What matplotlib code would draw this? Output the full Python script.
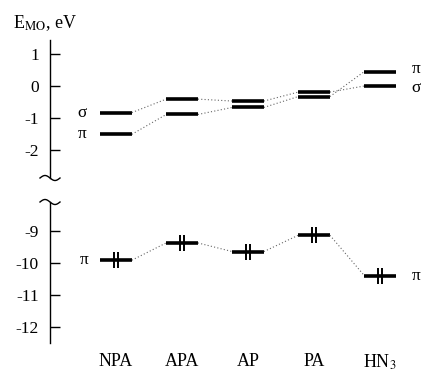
import numpy as np
import matplotlib
matplotlib.use("Agg")
import matplotlib.pyplot as plt
from matplotlib.lines import Line2D

plt.rcParams["font.family"] = ["Liberation Serif", "DejaVu Serif"]
plt.rcParams["mathtext.fontset"] = "stix"

# molecule order along the x axis
categories = ["NPA", "APA", "AP", "PA", r"HN$_3$"]

# unoccupied levels (eV), followed along the sigma and pi tracks
sigma_levels = [-0.83, -0.41, -0.47, -0.19, 0.00]
pi_levels = [-1.51, -0.89, -0.67, -0.33, 0.45]

# occupied pi level (eV)
occ_pi_levels = [-9.92, -9.38, -9.65, -9.14, -10.40]

upper_ticks = [1, 0, -1, -2]
lower_ticks = [-9, -10, -11, -12]

halfw = 0.24
xpos = np.arange(len(categories))

fig = plt.figure(figsize=(4.23, 3.72), dpi=100)
ax_up = fig.add_axes([50 / 423, 194 / 372, 373 / 423, 138 / 372])
ax_lo = fig.add_axes([50 / 423, 29 / 372, 373 / 423, 141 / 372])
ax_up.set_ylim(-2.875, 1.4375)
ax_lo.set_ylim(-12.51, -8.10)

for ax, ticks in ((ax_up, upper_ticks), (ax_lo, lower_ticks)):
    ax.set_xlim(-1.0, 4.65)
    ax.patch.set_visible(False)
    for s in ("top", "right", "bottom"):
        ax.spines[s].set_visible(False)
    ax.spines["left"].set_linewidth(1.0)
    ax.set_yticks(ticks)
    ax.set_yticklabels([str(t) for t in ticks])
    ax.tick_params(axis="y", direction="in", length=7, width=1.0, pad=8, labelsize=12.5)


def draw_track(ax, levels):
    for x, e in zip(xpos, levels):
        ax.plot([x - halfw, x + halfw], [e, e], color="black", lw=2.6, solid_capstyle="butt")
    for i in range(len(levels) - 1):
        ax.plot([xpos[i] + halfw, xpos[i + 1] - halfw], [levels[i], levels[i + 1]],
                color="#666666", lw=0.8, ls=(0, (1, 2)))


# upper panel
draw_track(ax_up, sigma_levels)
draw_track(ax_up, pi_levels)
ax_up.set_xticks([])
lab_kw = dict(fontsize=12.5, ha="center", va="center")
ax_up.text(xpos[0] - halfw - 0.27, sigma_levels[0], "σ", **lab_kw)
ax_up.text(xpos[0] - halfw - 0.27, pi_levels[0], "π", **lab_kw)
ax_up.text(xpos[-1] + halfw + 0.3, pi_levels[-1] + 0.08, "π", **lab_kw)
ax_up.text(xpos[-1] + halfw + 0.3, sigma_levels[-1] - 0.06, "σ", **lab_kw)

# lower panel
draw_track(ax_lo, occ_pi_levels)
for dx in (-0.03, 0.03):
    ax_lo.plot(xpos + dx, occ_pi_levels, ls="none", marker="|", ms=12, mew=1.4, color="black")
ax_lo.text(xpos[0] - halfw - 0.24, occ_pi_levels[0], "π", **lab_kw)
ax_lo.text(xpos[-1] + halfw + 0.3, occ_pi_levels[-1], "π", **lab_kw)
ax_lo.set_xticks(xpos)
ax_lo.set_xticklabels(categories, fontsize=13)
ax_lo.tick_params(axis="x", length=0, pad=7)

# axis break marks
t = np.linspace(-1, 1, 40)
bx = 50 + 10 * t
fig.add_artist(Line2D(bx / 423, (372 - 178 - 2.5 * np.sin(np.pi * t)) / 372,
                      color="black", lw=1.0))
fig.add_artist(Line2D(bx / 423, (372 - 202 - 2.5 * np.sin(np.pi * t)) / 372,
                      color="black", lw=1.0))

fig.text(13 / 423, (372 - 28) / 372, r"E$_{\rm MO}$, eV", fontsize=13, va="baseline")

fig.savefig("out.png", dpi=100)
